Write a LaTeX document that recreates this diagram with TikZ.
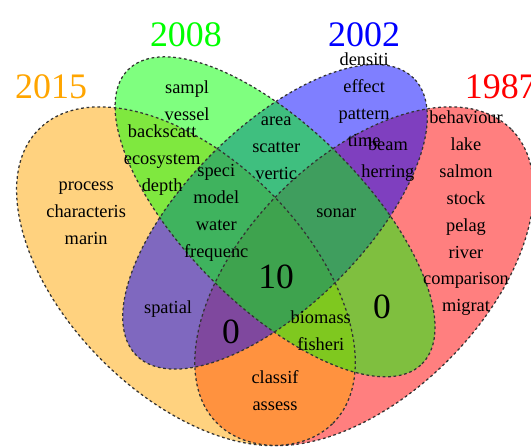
\documentclass[tikz,border=0pt]{standalone}
\usepackage{fontspec}
\setmainfont{Liberation Serif}
\usepackage{tikz}

\definecolor{c2015}{HTML}{FFA500}
\definecolor{c2008}{HTML}{00FF00}
\definecolor{c2002}{HTML}{0000FF}
\definecolor{c1987}{HTML}{FF0000}

\begin{document}
\begin{tikzpicture}[
  set/.style = {fill opacity=0.5},
  rim/.style = {black!80, line width=0.6pt, dash pattern=on 1.3pt off 1.3pt},
  word/.style = {align=center, font=\fontsize{8.8}{12.9}\selectfont},
  num/.style = {font=\fontsize{17}{20}\selectfont},
  year/.style = {font=\fontsize{17.2}{20}\selectfont}
]
\useasboundingbox (0.37,1.842) rectangle (9.309,9.35);

% the four sets
\fill[set, c1987, rotate around={45:(6.5,4.7)}] (6.5,4.7) ellipse [x radius=3.5, y radius=2];
\fill[set, c2015, rotate around={-45:(3.5,4.7)}] (3.5,4.7) ellipse [x radius=3.5, y radius=2];
\fill[set, c2002, rotate around={45:(5,5.7)}] (5,5.7) ellipse [x radius=3.3, y radius=1.5];
\fill[set, c2008, rotate around={-45:(5,5.7)}] (5,5.7) ellipse [x radius=3.5, y radius=1.5];

\draw[rim, rotate around={-45:(3.5,4.7)}] (3.5,4.7) ellipse [x radius=3.5, y radius=2];
\draw[rim, rotate around={45:(6.5,4.7)}] (6.5,4.7) ellipse [x radius=3.5, y radius=2];
\draw[rim, rotate around={45:(5,5.7)}] (5,5.7) ellipse [x radius=3.3, y radius=1.5];
\draw[rim, rotate around={-45:(5,5.7)}] (5,5.7) ellipse [x radius=3.5, y radius=1.5];

% year labels
\node[year, text=c2015] (yr15) at (1.23,7.885) {2015};
\node[year, text=c2008] (yr08) at (3.50,8.77) {2008};
\node[year, text=c2002] (yr02) at (6.50,8.77) {2002};
\node[year, text=c1987] (yr87) at (8.80,7.885) {1987};

% region contents
\node[word] (n15) at (1.82,5.76) {process\\characteris\\marin};
\node[word] (n08) at (3.52,7.65) {sampl\\vessel};
\node[word] (n02) at (6.50,7.67) {densiti\\effect\\pattern\\time};
\node[word] (n87) at (8.215,5.76) {behaviour\\lake\\salmon\\stock\\pelag\\river\\comparison\\migrat};
\node[word] (n1508) at (3.10,6.66) {backscatt\\ecosystem\\depth};
\node[word] (n0802) at (5.02,6.86) {area\\scatter\\vertic};
\node[word] (n0287) at (6.90,6.66) {beam\\herring};
\node[word] (n1502) at (3.20,4.15) {spatial};
\node[num] (n0887) at (6.80,4.18) {0};
\node[word] (n1587) at (5.00,2.78) {classif\\assess};
\node[word] (n150802) at (4.01,5.76) {speci\\model\\water\\frequenc};
\node[word] (n080287) at (6.03,5.76) {sonar};
\node[word] (n150887) at (5.77,3.79) {biomass\\fisheri};
\node[num] (n150287) at (4.26,3.76) {0};
\node[num] (nall) at (5.02,4.69) {10};

\end{tikzpicture}
\end{document}
